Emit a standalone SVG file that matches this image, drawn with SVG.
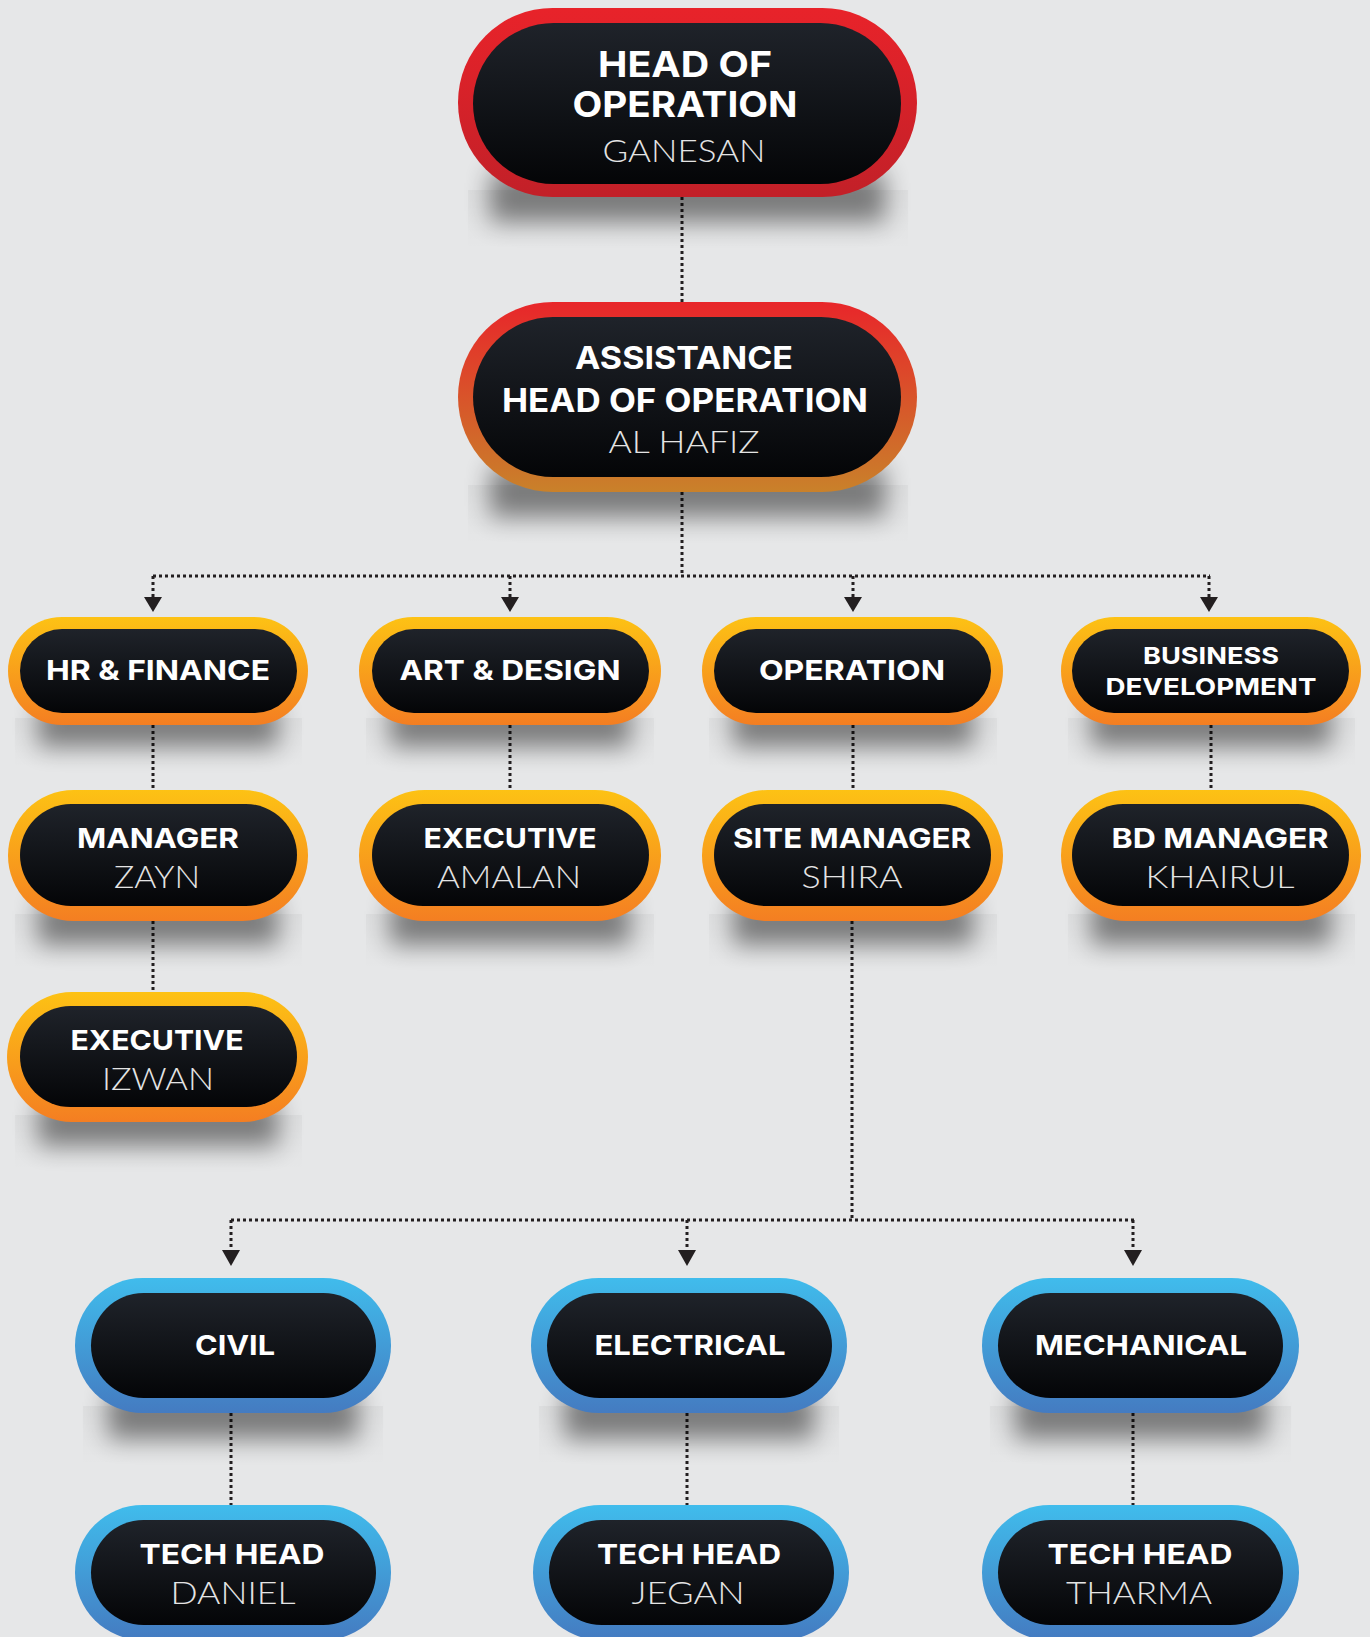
<svg xmlns="http://www.w3.org/2000/svg" width="1370" height="1637" viewBox="0 0 1370 1637">
<defs>
<linearGradient id="gDark" x1="0" y1="0" x2="0" y2="1"><stop offset="0" stop-color="#1f232a"/><stop offset="1" stop-color="#040507"/></linearGradient>
<linearGradient id="gRed" x1="0" y1="0" x2="0" y2="1"><stop offset="0" stop-color="#e8232a"/><stop offset="1" stop-color="#c22028"/></linearGradient>
<linearGradient id="gRedOr" x1="0" y1="0" x2="0" y2="1"><stop offset="0" stop-color="#e8262a"/><stop offset="1" stop-color="#c9812a"/></linearGradient>
<linearGradient id="gOr" x1="0" y1="0" x2="0" y2="1"><stop offset="0" stop-color="#fdc214"/><stop offset="1" stop-color="#f47e22"/></linearGradient>
<linearGradient id="gBlue" x1="0" y1="0" x2="0" y2="1"><stop offset="0" stop-color="#40bcec"/><stop offset="1" stop-color="#447bc1"/></linearGradient>
<linearGradient id="gFaint" x1="0" y1="0" x2="0" y2="1"><stop offset="0" stop-color="#000" stop-opacity=".035"/><stop offset="1" stop-color="#000" stop-opacity="0"/></linearGradient>
<filter id="blur" x="-20%" y="-100%" width="140%" height="300%"><feGaussianBlur stdDeviation="12"/></filter>
<style>
.sh{fill:#000;opacity:.45;filter:url(#blur)}
.fb{fill:url(#gFaint)}
.in{fill:url(#gDark)}
.t{font-family:Inter,"Liberation Sans",sans-serif;font-weight:700;fill:#fff;text-anchor:middle}
.n{font-family:Lato,"Open Sans","Liberation Sans",sans-serif;font-weight:300;fill:#e4e4e4;text-anchor:middle}
.c{fill:none;stroke:#231f20;stroke-width:3;stroke-dasharray:3 3}
.ah{fill:#231f20}
</style>
</defs>
<rect x="0" y="0" width="1370" height="1637" fill="#e6e7e8"/>

<g id="connectors">
<path class="c" d="M682,197 V302"/>
<path class="c" d="M682,492 V576"/>
<path class="c" d="M153,576 H1210"/>
<path class="c" d="M153,576 V597"/>
<path class="c" d="M510,576 V597"/>
<path class="c" d="M853,576 V597"/>
<path class="c" d="M1209,576 V597"/>
<path class="c" d="M153,725 V790"/>
<path class="c" d="M510,725 V790"/>
<path class="c" d="M853,725 V790"/>
<path class="c" d="M1211,725 V790"/>
<path class="c" d="M153,921 V992"/>
<path class="c" d="M852,921 V1220"/>
<path class="c" d="M231,1220 H1134"/>
<path class="c" d="M231,1220 V1250"/>
<path class="c" d="M687,1220 V1250"/>
<path class="c" d="M1133,1220 V1250"/>
<path class="c" d="M231,1413 V1505"/>
<path class="c" d="M687,1413 V1505"/>
<path class="c" d="M1133,1413 V1505"/>
<path class="ah" d="M144,597 H162 L153,612 Z"/>
<path class="ah" d="M501,597 H519 L510,612 Z"/>
<path class="ah" d="M844,597 H862 L853,612 Z"/>
<path class="ah" d="M1200,597 H1218 L1209,612 Z"/>
<path class="ah" d="M222,1250 H240 L231,1266 Z"/>
<path class="ah" d="M678,1250 H696 L687,1266 Z"/>
<path class="ah" d="M1124,1250 H1142 L1133,1266 Z"/>
</g>

<g id="n-head">
<rect class="fb" x="468" y="190" width="440" height="60"/>
<rect class="sh" x="490" y="172" width="395" height="50"/>
<rect x="458" y="8" width="459" height="189" rx="94.5" fill="url(#gRed)"/>
<rect class="in" x="473" y="23" width="428" height="161" rx="80.5"/>
<text class="t" x="685" y="77" font-size="36" textLength="174" lengthAdjust="spacingAndGlyphs">HEAD OF</text>
<text class="t" x="685" y="117" font-size="36" textLength="225" lengthAdjust="spacingAndGlyphs">OPERATION</text>
<text class="n" x="684" y="162" font-size="32" textLength="163" lengthAdjust="spacingAndGlyphs">GANESAN</text>
</g>

<g id="n-assist">
<rect class="fb" x="468" y="485" width="440" height="60"/>
<rect class="sh" x="490" y="467" width="395" height="50"/>
<rect x="458" y="302" width="459" height="190" rx="95" fill="url(#gRedOr)"/>
<rect class="in" x="473" y="317" width="428" height="160" rx="80"/>
<text class="t" x="684" y="369" font-size="31" textLength="218" lengthAdjust="spacingAndGlyphs">ASSISTANCE</text>
<text class="t" x="685" y="412" font-size="32" textLength="366" lengthAdjust="spacingAndGlyphs">HEAD OF OPERATION</text>
<text class="n" x="684" y="453" font-size="32" textLength="151" lengthAdjust="spacingAndGlyphs">AL HAFIZ</text>
</g>

<g id="n-hr">
<rect class="fb" x="15" y="718" width="287" height="50"/>
<rect class="sh" x="38" y="705" width="240" height="42"/>
<rect x="8" y="617" width="300" height="108" rx="54" fill="url(#gOr)"/>
<rect class="in" x="20" y="629" width="277" height="84" rx="42"/>
<text class="t" x="158" y="680" font-size="27.5" textLength="224" lengthAdjust="spacingAndGlyphs">HR &amp; FINANCE</text>
</g>

<g id="n-art">
<rect class="fb" x="366" y="718" width="288" height="50"/>
<rect class="sh" x="390" y="705" width="240" height="42"/>
<rect x="359" y="617" width="302" height="108" rx="54" fill="url(#gOr)"/>
<rect class="in" x="372" y="629" width="277" height="84" rx="42"/>
<text class="t" x="510" y="680" font-size="27.5" textLength="221" lengthAdjust="spacingAndGlyphs">ART &amp; DESIGN</text>
</g>

<g id="n-operation">
<rect class="fb" x="709" y="718" width="288" height="50"/>
<rect class="sh" x="733" y="705" width="240" height="42"/>
<rect x="702" y="617" width="301" height="108" rx="54" fill="url(#gOr)"/>
<rect class="in" x="714" y="629" width="277" height="84" rx="42"/>
<text class="t" x="852" y="680" font-size="27.5" textLength="186" lengthAdjust="spacingAndGlyphs">OPERATION</text>
</g>

<g id="n-bd">
<rect class="fb" x="1068" y="718" width="287" height="50"/>
<rect class="sh" x="1091" y="705" width="240" height="42"/>
<rect x="1061" y="617" width="300" height="108" rx="54" fill="url(#gOr)"/>
<rect class="in" x="1072" y="629" width="277" height="84" rx="42"/>
<text class="t" x="1211" y="664" font-size="23.5" textLength="136" lengthAdjust="spacingAndGlyphs">BUSINESS</text>
<text class="t" x="1211" y="695" font-size="23.5" textLength="211" lengthAdjust="spacingAndGlyphs">DEVELOPMENT</text>
</g>

<g id="n-manager">
<rect class="fb" x="15" y="914" width="287" height="55"/>
<rect class="sh" x="38" y="900" width="240" height="45"/>
<rect x="8" y="790" width="300" height="131" rx="65.5" fill="url(#gOr)"/>
<rect class="in" x="20" y="804" width="277" height="102" rx="51"/>
<text class="t" x="158" y="848" font-size="27.5" textLength="162" lengthAdjust="spacingAndGlyphs">MANAGER</text>
<text class="n" x="157" y="888" font-size="31" textLength="86" lengthAdjust="spacingAndGlyphs">ZAYN</text>
</g>

<g id="n-exec-amalan">
<rect class="fb" x="366" y="914" width="288" height="55"/>
<rect class="sh" x="390" y="900" width="240" height="45"/>
<rect x="359" y="790" width="302" height="131" rx="65.5" fill="url(#gOr)"/>
<rect class="in" x="372" y="804" width="277" height="102" rx="51"/>
<text class="t" x="510" y="848" font-size="27.5" textLength="173" lengthAdjust="spacingAndGlyphs">EXECUTIVE</text>
<text class="n" x="509" y="888" font-size="31" textLength="144" lengthAdjust="spacingAndGlyphs">AMALAN</text>
</g>

<g id="n-site">
<rect class="fb" x="709" y="914" width="288" height="55"/>
<rect class="sh" x="733" y="900" width="240" height="45"/>
<rect x="702" y="790" width="301" height="131" rx="65.5" fill="url(#gOr)"/>
<rect class="in" x="714" y="804" width="277" height="102" rx="51"/>
<text class="t" x="852" y="848" font-size="27.5" textLength="238" lengthAdjust="spacingAndGlyphs">SITE MANAGER</text>
<text class="n" x="852" y="888" font-size="31" textLength="101" lengthAdjust="spacingAndGlyphs">SHIRA</text>
</g>

<g id="n-bdmanager">
<rect class="fb" x="1068" y="914" width="287" height="55"/>
<rect class="sh" x="1091" y="900" width="240" height="45"/>
<rect x="1061" y="790" width="300" height="131" rx="65.5" fill="url(#gOr)"/>
<rect class="in" x="1072" y="804" width="277" height="102" rx="51"/>
<text class="t" x="1220" y="848" font-size="27.5" textLength="217" lengthAdjust="spacingAndGlyphs">BD MANAGER</text>
<text class="n" x="1220" y="888" font-size="31" textLength="149" lengthAdjust="spacingAndGlyphs">KHAIRUL</text>
</g>

<g id="n-exec-izwan">
<rect class="fb" x="15" y="1115" width="287" height="55"/>
<rect class="sh" x="38" y="1101" width="240" height="45"/>
<rect x="7" y="992" width="301" height="130" rx="65" fill="url(#gOr)"/>
<rect class="in" x="20" y="1006" width="277" height="101" rx="50.5"/>
<text class="t" x="157" y="1050" font-size="27.5" textLength="173" lengthAdjust="spacingAndGlyphs">EXECUTIVE</text>
<text class="n" x="158" y="1090" font-size="31" textLength="112" lengthAdjust="spacingAndGlyphs">IZWAN</text>
</g>

<g id="n-civil">
<rect class="fb" x="83" y="1406" width="300" height="60"/>
<rect class="sh" x="108" y="1391" width="250" height="48"/>
<rect x="75" y="1278" width="316" height="135" rx="67.5" fill="url(#gBlue)"/>
<rect class="in" x="91" y="1293" width="285" height="105" rx="52.5"/>
<text class="t" x="235" y="1355" font-size="27.5" textLength="80" lengthAdjust="spacingAndGlyphs">CIVIL</text>
</g>

<g id="n-electrical">
<rect class="fb" x="539" y="1406" width="300" height="60"/>
<rect class="sh" x="564" y="1391" width="250" height="48"/>
<rect x="531" y="1278" width="316" height="135" rx="67.5" fill="url(#gBlue)"/>
<rect class="in" x="547" y="1293" width="285" height="105" rx="52.5"/>
<text class="t" x="690" y="1355" font-size="27.5" textLength="191" lengthAdjust="spacingAndGlyphs">ELECTRICAL</text>
</g>

<g id="n-mechanical">
<rect class="fb" x="990" y="1406" width="301" height="60"/>
<rect class="sh" x="1015" y="1391" width="251" height="48"/>
<rect x="982" y="1278" width="317" height="135" rx="67.5" fill="url(#gBlue)"/>
<rect class="in" x="998" y="1293" width="285" height="105" rx="52.5"/>
<text class="t" x="1141" y="1355" font-size="27.5" textLength="212" lengthAdjust="spacingAndGlyphs">MECHANICAL</text>
</g>

<g id="n-tech-daniel">
<rect x="75" y="1505" width="316" height="135" rx="67.5" fill="url(#gBlue)"/>
<rect class="in" x="91" y="1520" width="285" height="105" rx="52.5"/>
<text class="t" x="232" y="1564" font-size="27.5" textLength="185" lengthAdjust="spacingAndGlyphs">TECH HEAD</text>
<text class="n" x="233" y="1604" font-size="31" textLength="125" lengthAdjust="spacingAndGlyphs">DANIEL</text>
</g>

<g id="n-tech-jegan">
<rect x="533" y="1505" width="316" height="135" rx="67.5" fill="url(#gBlue)"/>
<rect class="in" x="549" y="1520" width="285" height="105" rx="52.5"/>
<text class="t" x="689" y="1564" font-size="27.5" textLength="184" lengthAdjust="spacingAndGlyphs">TECH HEAD</text>
<text class="n" x="688" y="1604" font-size="31" textLength="113" lengthAdjust="spacingAndGlyphs">JEGAN</text>
</g>

<g id="n-tech-tharma">
<rect x="982" y="1505" width="317" height="135" rx="67.5" fill="url(#gBlue)"/>
<rect class="in" x="998" y="1520" width="285" height="105" rx="52.5"/>
<text class="t" x="1140" y="1564" font-size="27.5" textLength="185" lengthAdjust="spacingAndGlyphs">TECH HEAD</text>
<text class="n" x="1139" y="1604" font-size="31" textLength="146" lengthAdjust="spacingAndGlyphs">THARMA</text>
</g>
</svg>
